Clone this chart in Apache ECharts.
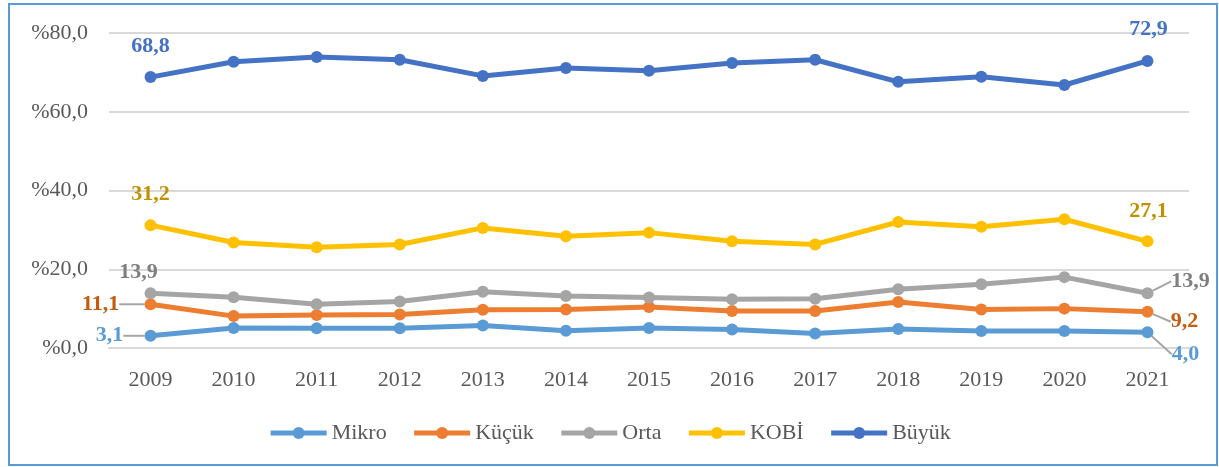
<!DOCTYPE html>
<html>
<head>
<meta charset="utf-8">
<script src="https://cdn.jsdelivr.net/npm/echarts@6/dist/echarts.min.js"></script>
<style>
  html, body { margin: 0; padding: 0; background: #fff; }
  #echart { width: 1219px; height: 467px; }
</style>
</head>
<body>
<div id="echart"></div>
<script>
var years = ['2009', '2010', '2011', '2012', '2013', '2014', '2015', '2016', '2017', '2018', '2019', '2020', '2021'];
var mikro = [3.1, 5.1, 5.0, 5.0, 5.7, 4.4, 5.1, 4.7, 3.7, 4.8, 4.3, 4.3, 4.0];
var kucuk = [11.1, 8.1, 8.4, 8.5, 9.7, 9.8, 10.4, 9.4, 9.4, 11.7, 9.8, 10.0, 9.2];
var orta = [13.9, 12.9, 11.1, 11.8, 14.3, 13.2, 12.8, 12.4, 12.5, 14.9, 16.2, 18.0, 13.9];
var kobi = [31.2, 26.8, 25.6, 26.3, 30.5, 28.4, 29.3, 27.1, 26.3, 32.0, 30.8, 32.7, 27.1];
var buyuk = [68.8, 72.7, 73.9, 73.2, 69.1, 71.1, 70.4, 72.4, 73.2, 67.6, 68.9, 66.8, 72.9];
var yTicks = [0, 20, 40, 60, 80];

var serif = 'Liberation Serif, Times New Roman, serif';

function fmt(v) {
    return v.toFixed(1).replace('.', ',');
}

// seri tanımları: ad, veri, çizgi rengi, etiket rengi, ilk/son etiket kaydırması, kılavuz çizgi
var defs = [
    {name: 'Mikro', data: mikro, color: '#5B9BD5', labelColor: '#5B9BD5', shift: [[-41, 0], [38, 22]], guide: true},
    {name: 'Küçük', data: kucuk, color: '#ED7D31', labelColor: '#C55A11', shift: [[-50, 0], [37, 10]], guide: true},
    {name: 'Orta', data: orta, color: '#A5A5A5', labelColor: '#7F7F7F', shift: [[-12, -21], [43, -12]], guide: true},
    {name: 'KOBİ', data: kobi, color: '#FFC000', labelColor: '#BF9000', shift: [[0, -31], [1, -30]], guide: false},
    {name: 'Büyük', data: buyuk, color: '#4472C4', labelColor: '#4472C4', shift: [[0, -31], [1, -32]], guide: false}
];

var series = [];
for (var i = 0; i < defs.length; i++) {
    var d = defs[i];
    var items = [];
    for (var j = 0; j < d.data.length; j++) {
        var edge = (j === 0 || j === d.data.length - 1);
        var item = {value: d.data[j]};
        if (edge) {
            item.label = {show: true};
            item.labelLine = {show: d.guide && !(i === 2 && j === 0)};
        }
        items.push(item);
    }
    series.push({
        name: d.name,
        type: 'line',
        data: items,
        symbol: 'circle',
        symbolSize: 12,
        color: d.color,
        lineStyle: {width: 5, color: d.color},
        itemStyle: {color: d.color},
        label: {
            show: false,
            position: 'inside',
            color: d.labelColor,
            fontFamily: serif,
            fontWeight: 'bold',
            fontSize: 22,
            formatter: function (p) { return fmt(p.value); }
        },
        labelLine: {
            show: false,
            lineStyle: {color: '#A6A6A6', width: 2}
        },
        labelLayout: (function (shift) {
            return function (p) {
                var s = p.dataIndex === 0 ? shift[0] : shift[1];
                return {dx: s[0], dy: s[1]};
            };
        })(d.shift),
        emphasis: {disabled: true}
    });
}

var myChart = echarts.init(document.getElementById('echart'));
var option = {
    animation: false,
    backgroundColor: '#fff',
    grid: {
        left: 109,
        right: 30,
        top: 33,
        bottom: 119
    },
    legend: {
        top: 417,
        left: 'center',
        itemWidth: 56,
        itemHeight: 15,
        itemGap: 25,
        lineStyle: {width: 5},
        textStyle: {
            fontFamily: serif,
            fontSize: 22,
            color: '#595959'
        },
        data: ['Mikro', 'Küçük', 'Orta', 'KOBİ', 'Büyük']
    },
    xAxis: {
        type: 'category',
        data: years,
        boundaryGap: true,
        axisTick: {show: false},
        axisLine: {lineStyle: {color: '#D9D9D9', width: 2}},
        axisLabel: {
            margin: 21,
            fontFamily: serif,
            fontSize: 22,
            color: '#595959'
        }
    },
    yAxis: {
        type: 'value',
        min: yTicks[0],
        max: yTicks[yTicks.length - 1],
        interval: yTicks[1] - yTicks[0],
        axisLine: {show: false},
        axisTick: {show: false},
        splitLine: {lineStyle: {color: '#D9D9D9', width: 2}},
        axisLabel: {
            margin: 21,
            fontFamily: serif,
            fontSize: 22,
            color: '#595959',
            formatter: function (v) { return '%' + fmt(v); }
        }
    },
    graphic: [{
        type: 'rect',
        z: 100,
        shape: {x: 9, y: 4, width: 1208, height: 461},
        style: {fill: 'none', stroke: '#5B9BD5', lineWidth: 2}
    }],
    series: series
};
myChart.setOption(option);
window.onresize = myChart.resize;
</script>
</body>
</html>
